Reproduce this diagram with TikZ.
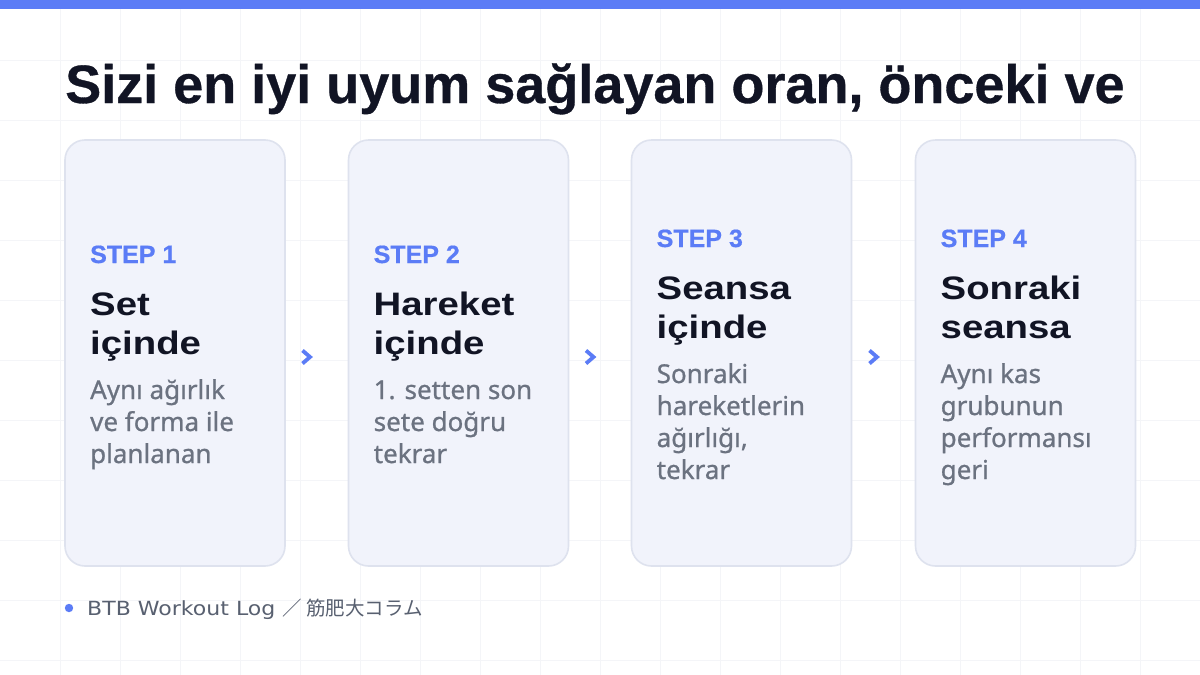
\documentclass[tikz,border=0pt]{standalone}
\usepackage{fontspec}
\setmainfont{Noto Sans}
\newfontfamily\jpfont{Noto Sans CJK JP}
\newfontfamily\titlefont{Liberation Sans}[FakeBold=0.6]
\newfontfamily\headfont{Liberation Sans}[FakeStretch=1.18]
\newfontfamily\bodyfont{Noto Sans}[FakeBold=0.8]
\newfontfamily\footfont{DejaVu Sans}[FakeStretch=1.13]
\definecolor{accent}{RGB}{91,124,246}
\definecolor{ink}{RGB}{17,20,36}
\definecolor{bodyc}{RGB}{107,114,128}
\definecolor{footc}{RGB}{88,96,112}
\definecolor{cardfill}{RGB}{241,243,251}
\definecolor{cardline}{RGB}{222,226,238}
\definecolor{gridc}{RGB}{244,245,248}
\tikzset{
  card/.style={draw=cardline, line width=1.6pt, fill=cardfill, rounded corners=20pt,
    minimum width=220pt, minimum height=426pt, inner sep=0pt},
  steplbl/.style={anchor=base west, inner sep=0pt, text=accent,
    font=\titlefont\fontsize{25}{28}\selectfont\bfseries},
  headlbl/.style={anchor=base west, inner sep=0pt, text=ink,
    font=\headfont\fontsize{32.5}{38}\selectfont\bfseries},
  bodylbl/.style={anchor=base west, inner sep=0pt, text=bodyc,
    font=\bodyfont\fontsize{26}{30}\selectfont},
  chevpath/.style={draw=accent, line width=3.8pt, line join=miter},
}
\begin{document}
\begin{tikzpicture}[x=1pt,y=-1pt]
\useasboundingbox (0,0) rectangle (1200,675);
\fill[white] (0,0) rectangle (1200,675);
\foreach \gx in {60,120,...,1140} \draw[gridc, line width=0.8pt] (\gx,0) -- (\gx,675);
\foreach \gy in {60,120,...,660} \draw[gridc, line width=0.8pt] (0,\gy) -- (1200,\gy);
\fill[accent] (0,0) rectangle (1200,9);
\node[anchor=base west, inner sep=0pt, text=ink, font=\titlefont\fontsize{54}{60}\selectfont\bfseries] (title) at (65,103) {Sizi en iyi uyum sağlayan oran, önceki ve};
% cards
\node[card] (c1) at (175,353) {};
\node[card] (c2) at (458.5,353) {};
\node[card] (c3) at (741.5,353) {};
\node[card] (c4) at (1025.5,353) {};
% card 1
\node[steplbl] (s1) at (90,263) {STEP 1};
\node[headlbl] (h1a) at (90,315) {Set};
\node[headlbl] (h1b) at (90,354) {içinde};
\node[bodylbl] (b1a) at (90,399) {Aynı ağırlık};
\node[bodylbl] (b1b) at (90,431) {ve forma ile};
\node[bodylbl] (b1c) at (90,463) {planlanan};
% card 2
\node[steplbl] (s2) at (373.5,263) {STEP 2};
\node[headlbl] (h2a) at (373.5,315) {Hareket};
\node[headlbl] (h2b) at (373.5,354) {içinde};
\node[bodylbl] (b2a) at (373.5,399) {1. setten son};
\node[bodylbl] (b2b) at (373.5,431) {sete doğru};
\node[bodylbl] (b2c) at (373.5,463) {tekrar};
% card 3
\node[steplbl] (s3) at (656.5,247) {STEP 3};
\node[headlbl] (h3a) at (656.5,299) {Seansa};
\node[headlbl] (h3b) at (656.5,338) {içinde};
\node[bodylbl] (b3a) at (656.5,383) {Sonraki};
\node[bodylbl] (b3b) at (656.5,415) {hareketlerin};
\node[bodylbl] (b3c) at (656.5,447) {ağırlığı,};
\node[bodylbl] (b3d) at (656.5,479) {tekrar};
% card 4
\node[steplbl] (s4) at (940.5,247) {STEP 4};
\node[headlbl] (h4a) at (940.5,299) {Sonraki};
\node[headlbl] (h4b) at (940.5,338) {seansa};
\node[bodylbl] (b4a) at (940.5,383) {Aynı kas};
\node[bodylbl] (b4b) at (940.5,415) {grubunun};
\node[bodylbl] (b4c) at (940.5,447) {performansı};
\node[bodylbl] (b4d) at (940.5,479) {geri};
% chevrons
\coordinate (ar1) at (306.5,357);
\coordinate (ar2) at (590,357);
\coordinate (ar3) at (873.5,357);
\foreach \a in {ar1,ar2,ar3}
  \draw[chevpath] (\a) ++(-4,-6.5) -- ++(7.5,6.5) -- ++(-7.5,6.5);
% footer
\fill[accent] (69,608) circle (4.2pt);
\node[anchor=base west, inner sep=0pt, text=footc, font=\footfont\fontsize{19.5}{24}\selectfont] (foot) at (87,615) {BTB Workout Log {\jpfont\fontsize{19.5}{24}\selectfont ／ 筋肥大コラム}};
\end{tikzpicture}
\end{document}
